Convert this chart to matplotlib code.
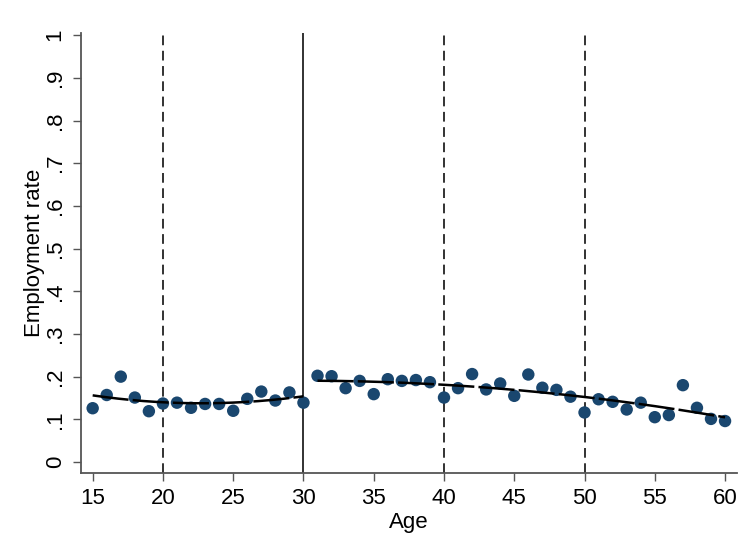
import numpy as np
import matplotlib
matplotlib.use("Agg")
import matplotlib.pyplot as plt

plt.rcParams['font.family'] = ['Liberation Sans', 'DejaVu Sans']
plt.rcParams['lines.scale_dashes'] = False

# Mean employment rate by age
ages = np.arange(15, 61)
employment = [
    0.126, 0.157, 0.200, 0.151, 0.119, 0.137, 0.139, 0.127, 0.136, 0.136,
    0.120, 0.148, 0.165, 0.144, 0.163, 0.139,
    0.202, 0.201, 0.173, 0.190, 0.159, 0.194, 0.190, 0.192, 0.187, 0.151,
    0.173, 0.206, 0.170, 0.184, 0.155, 0.205, 0.174, 0.169, 0.153, 0.116,
    0.147, 0.141, 0.123, 0.139, 0.105, 0.110, 0.180, 0.127, 0.101, 0.096,
]
cutoff = 30
dashed_refs = [20, 40, 50]
yticks = np.round(np.arange(0, 1.01, 0.1), 1)
ytick_labels = ["0", ".1", ".2", ".3", ".4", ".5", ".6", ".7", ".8", ".9", "1"]
xticks = np.arange(15, 61, 5)

emp = np.array(employment)

fig = plt.figure(figsize=(7.49, 5.37), dpi=100)
ax = fig.add_axes([0.1077, 0.1186, 0.8759, 0.8199])

# reference lines
for xr in dashed_refs:
    ax.axvline(xr, color="#222222", lw=1.3, dashes=(7, 4), zorder=1)
ax.axvline(cutoff, color="#222222", lw=1.3, zorder=1)

# binned means
ax.scatter(ages, emp, s=80, color="#1a476f", edgecolors="none", zorder=3)

# quadratic fits on each side of the cutoff
for mask in (ages <= cutoff, ages > cutoff):
    xs = ages[mask]
    coef = np.polyfit(xs, emp[mask], 2)
    grid = np.linspace(xs.min(), xs.max(), 200)
    ax.plot(grid, np.polyval(coef, grid), color="black", lw=1.8,
            dashes=(26, 3), zorder=4)

ax.set_xlim(14.146, 60.83)
ax.set_ylim(-0.0265, 1.005)
ax.set_xticks(xticks)
ax.set_yticks(yticks)
ax.set_yticklabels(ytick_labels, rotation=90, va="center")

for side in ("top", "right"):
    ax.spines[side].set_visible(False)
for side in ("left", "bottom"):
    ax.spines[side].set_color("#555555")
    ax.spines[side].set_linewidth(1.3)

ax.tick_params(axis="both", direction="out", length=5.8, width=1.0,
               color="#555555", labelsize=16, labelcolor="black", pad=5)

ax.set_xlabel("Age", fontsize=16, labelpad=2)
ax.set_ylabel("Employment rate", fontsize=16, labelpad=0)

fig.savefig("out.png", dpi=100)
